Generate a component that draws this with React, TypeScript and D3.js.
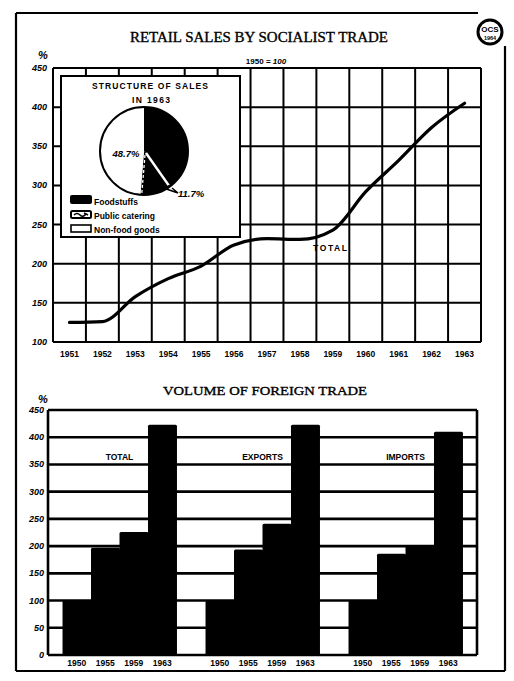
import React from "react";
import * as d3 from "d3";

const lineYears = ["1951","1952","1953","1954","1955","1956","1957","1958","1959","1960","1961","1962","1963"];
const retailTotal = [125, 126, 158, 181, 197, 224, 232, 231, 243, 292, 332, 374, 405];
const lineTicks = [100, 150, 200, 250, 300, 350, 400, 450];

const pieLabels = ["Foodstuffs", "Public catering", "Non-food goods"];
const pieValues = [39.6, 11.7, 48.7];

const barGroups = ["TOTAL", "EXPORTS", "IMPORTS"];
const barYears = ["1950", "1955", "1959", "1963"];
const tradeTotal = [100, 197, 226, 423];
const tradeExports = [100, 194, 241, 423];
const tradeImports = [100, 186, 202, 410];
const barTicks = [0, 50, 100, 150, 200, 250, 300, 350, 400, 450];

const SANS = "'Liberation Sans', Arial, sans-serif";
const SERIF = "'Liberation Serif', 'DejaVu Serif', serif";

export default function App() {
  // ---------- top line chart ----------
  const x1 = d3.scaleBand<string>().domain(lineYears).range([53, 481]).padding(0);
  const y1 = d3.scaleLinear().domain([100, 450]).range([342, 68]);
  const line = d3
    .line<number>()
    .x((_, i) => (x1(lineYears[i]) as number) + x1.bandwidth() / 2)
    .y((d) => y1(d))
    .curve(d3.curveMonotoneX);
  const vGrid = [...lineYears.map((y) => x1(y) as number), 481];

  // pie
  const pcx = 144, pcy = 151, pr = 44;
  const pie = d3.pie<number>().sort(null)(pieValues);
  const arc = d3.arc<d3.PieArcDatum<number>>().innerRadius(0).outerRadius(pr);
  const ang = (a: number, r: number) => [pcx + r * Math.sin(a), pcy - r * Math.cos(a)];
  const cat = pie[1];
  const [s1x, s1y] = ang(cat.startAngle + 0.03, pr - 2);
  const [s2x, s2y] = ang(cat.endAngle - 0.03, pr - 2);
  const [pmx, pmy] = ang((cat.startAngle + cat.endAngle) / 2 - 0.1, pr - 6);

  // ---------- bottom bar chart ----------
  const gx = d3.scaleBand<string>().domain(barGroups).range([48, 477]).padding(0);
  const bx = d3.scaleBand<string>().domain(barYears).range([0, gx.bandwidth()]).paddingInner(0).paddingOuter(0.51);
  const y2 = d3.scaleLinear().domain([0, 450]).range([655, 410]);
  const groupData = [tradeTotal, tradeExports, tradeImports];

  return (
    <svg width={514} height={681} style={{ display: "block", position: "absolute", left: 0, top: 0, background: "#fff" }}>
      <rect width={514} height={681} fill="#fff" />
      {/* outer frame */}
      <g stroke="#000" strokeWidth={2.2} fill="none">
        <line x1={16} y1={13} x2={478} y2={13} />
        <line x1={16} y1={13} x2={16} y2={671} />
        <line x1={16} y1={671} x2={505} y2={671} />
        <line x1={505} y1={46} x2={505} y2={671} />
        <circle cx={490} cy={32} r={12} strokeWidth={3} />
      </g>
      <text x={490} y={32} textAnchor="middle" fontFamily={SANS} fontWeight="bold" fontSize={8}>OCS</text>
      <text x={490} y={40} textAnchor="middle" fontFamily={SANS} fontWeight="bold" fontSize={5.5}>1964</text>

      {/* titles */}
      <text x={259} y={42} textAnchor="middle" fontFamily={SERIF} fontSize={14} stroke="#000" strokeWidth={0.35} textLength={258} lengthAdjust="spacingAndGlyphs">RETAIL SALES BY SOCIALIST TRADE</text>
      <text x={266} y={64} textAnchor="middle" fontFamily={SANS} fontWeight="bold" fontSize={8}>
        1950 = <tspan fontStyle="italic">100</tspan>
      </text>
      <text x={43} y={59} textAnchor="middle" fontFamily={SANS} fontStyle="italic" fontWeight="bold" fontSize={11}>%</text>

      {/* top grid */}
      <g stroke="#000" strokeWidth={2}>
        {lineTicks.map((t) => (
          <line key={t} x1={53} x2={481} y1={y1(t)} y2={y1(t)} />
        ))}
        {vGrid.map((x, i) => (
          <line key={i} x1={x} x2={x} y1={y1(450)} y2={y1(100)} />
        ))}
      </g>
      {lineTicks.map((t) => (
        <text key={t} x={47} y={y1(t) + 3} textAnchor="end" fontFamily={SANS} fontStyle="italic" fontWeight="bold" fontSize={9}>{t}</text>
      ))}
      {lineYears.map((yr) => (
        <text key={yr} x={(x1(yr) as number) + x1.bandwidth() / 2} y={357} textAnchor="middle" fontFamily={SANS} fontWeight="bold" fontSize={8.5}>{yr}</text>
      ))}
      <path d={line(retailTotal) || ""} fill="none" stroke="#000" strokeWidth={3.2} strokeLinecap="round" />
      <text x={330} y={251} textAnchor="middle" fontFamily={SANS} fontWeight="bold" fontSize={8.5} textLength={34}>TOTAL</text>

      {/* inset */}
      <rect x={61} y={76} width={179} height={161} fill="#fff" stroke="#000" strokeWidth={2} />
      <text x={150} y={89} textAnchor="middle" fontFamily={SANS} fontWeight="bold" fontSize={8.5} textLength={116}>STRUCTURE OF SALES</text>
      <text x={151} y={103} textAnchor="middle" fontFamily={SANS} fontWeight="bold" fontSize={8.5} textLength={38}>IN 1963</text>
      <g transform={`translate(${pcx},${pcy})`}>
        {pie.map((p, i) => (
          <path key={i} d={arc(p) || ""} fill={i === 2 ? "#fff" : "#000"} stroke="none" />
        ))}
      </g>
      <line x1={pcx + 2} y1={pcy + 2} x2={s1x} y2={s1y} stroke="#fff" strokeWidth={2.5} />
      <line x1={pcx + 1} y1={pcy + 4} x2={s2x} y2={s2y} stroke="#fff" strokeWidth={1.3} strokeDasharray="3,2" />
      <circle cx={pcx} cy={pcy} r={pr} fill="none" stroke="#000" strokeWidth={2} />
      <text x={126} y={157} textAnchor="middle" fontFamily={SANS} fontStyle="italic" fontWeight="bold" fontSize={9.5}>48.7%</text>
      <path d={`M${pmx},${pmy} L178,193 M172,188 L178,193`} stroke="#000" strokeWidth={1.5} fill="none" />
      <text x={178} y={197} fontFamily={SANS} fontStyle="italic" fontWeight="bold" fontSize={9.5}>11.7%</text>

      {/* legend */}
      <rect x={70} y={195} width={22} height={9} rx={2} fill="#000" />
      <rect x={71} y={211} width={20} height={7} rx={1.5} fill="#fff" stroke="#000" strokeWidth={2} />
      <path d="M74,215 Q77,212 80,215 T86,214 M84,213 L88,215" stroke="#000" strokeWidth={1.5} fill="none" />
      <rect x={71} y={225} width={20} height={7} fill="#fff" stroke="#000" strokeWidth={1.6} />
      {pieLabels.map((l, i) => (
        <text key={l} x={94} y={205 + i * 14} fontFamily={SANS} fontWeight="bold" fontSize={8.5}>{l}</text>
      ))}

      {/* bottom chart */}
      <text x={265} y={395} textAnchor="middle" fontFamily={SERIF} fontSize={13} stroke="#000" strokeWidth={0.35} textLength={204} lengthAdjust="spacingAndGlyphs">VOLUME OF FOREIGN TRADE</text>
      <text x={43} y={403} textAnchor="middle" fontFamily={SANS} fontStyle="italic" fontWeight="bold" fontSize={11}>%</text>
      <g stroke="#000" strokeWidth={2.6}>
        {barTicks.map((t) => (
          <line key={t} x1={48} x2={477} y1={y2(t)} y2={y2(t)} />
        ))}
        <line x1={48} x2={48} y1={y2(450)} y2={y2(0)} />
        <line x1={477} x2={477} y1={y2(450)} y2={y2(0)} />
      </g>
      {barTicks.map((t) => (
        <text key={t} x={44} y={y2(t) + 3} textAnchor="end" fontFamily={SANS} fontStyle="italic" fontWeight="bold" fontSize={9}>{t}</text>
      ))}
      {barGroups.map((g, gi) => {
        const gx0 = gx(g) as number;
        return (
          <g key={g}>
            {groupData[gi].map((v, i) => (
              <rect key={i} x={gx0 + (bx(barYears[i]) as number)} y={y2(v)} width={bx.bandwidth() + 0.5} height={y2(0) - y2(v)} fill="#000" rx={1.5} />
            ))}
            {barYears.map((yr) => (
              <text key={yr} x={gx0 + (bx(yr) as number) + bx.bandwidth() / 2} y={666} textAnchor="middle" fontFamily={SANS} fontWeight="bold" fontSize={8.5}>{yr}</text>
            ))}
            <text x={gx0 + gx.bandwidth() / 2} y={460} textAnchor="middle" fontFamily={SANS} fontWeight="bold" fontSize={8.5}>{g}</text>
          </g>
        );
      })}
    </svg>
  );
}
